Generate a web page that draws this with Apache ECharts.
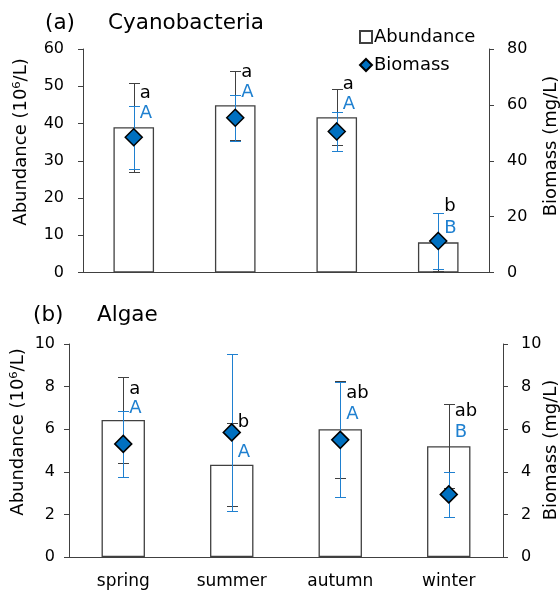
<!DOCTYPE html>
<html>
<head>
<meta charset="utf-8">
<title>Cyanobacteria and algae by season</title>
<script src="https://cdn.jsdelivr.net/npm/echarts@6/dist/echarts.min.js"></script>
<style>
  html, body { margin: 0; padding: 0; background: #fff; }
  #main { width: 560px; height: 593px; }
</style>
</head>
<body>
<div id="main"></div>
<script>
// seasons
var seasons = ['spring', 'summer', 'autumn', 'winter'];

// (a) cyanobacteria: abundance (10^6/L, left axis) and biomass (mg/L, right axis)
var cyanoAbund = [39.0, 44.9, 41.7, 8.1];
var cyanoAbundErr = [11.9, 9.3, 7.5, 7.8];
var cyanoBio = [48.4, 55.4, 50.5, 11.3];
var cyanoBioErr = [11.2, 8.2, 6.9, 10.1];
var cyanoLetters = ['a', 'a', 'a', 'b'];
var cyanoLettersBio = ['A', 'A', 'A', 'B'];
// where the letters sit, in left-axis units
var cyanoLetterY = [48.1, 53.7, 50.5, 17.7];
var cyanoLetterBioY = [42.8, 48.4, 45.2, 11.9];

// (b) algae
var algaeAbund = [6.43, 4.33, 6.0, 5.2];
var algaeAbundErr = [2.02, 1.95, 2.28, 1.98];
var algaeBio = [5.31, 5.85, 5.5, 2.94];
var algaeBioErr = [1.55, 3.7, 2.7, 1.07];
var algaeLetters = ['a', 'b', 'ab', 'ab'];
var algaeLettersBio = ['A', 'A', 'A', 'B'];
var algaeLetterY = [7.87, 6.3, 7.68, 6.82];
var algaeLetterBioY = [6.98, 4.9, 6.7, 5.85];

var FONT = 'DejaVu Sans';
var DARK = '#404040';
var BLUE = '#1f80d0';
var FILL = '#0070c0';

function errData(vals, errs) {
	return vals.map(function (v, i) { return [i, v - errs[i], v + errs[i]]; });
}

// vertical error bar with caps, snapped to half pixels so it stays crisp
function errRender(color) {
	return function (params, api) {
		var i = api.value(0);
		var lo = api.coord([i, api.value(1)]);
		var hi = api.coord([i, api.value(2)]);
		var x = Math.round(lo[0]) + 0.5;
		var y1 = Math.round(lo[1]) + 0.5;
		var y2 = Math.round(hi[1]) + 0.5;
		var half = 5.5;
		var st = { stroke: color, lineWidth: 1 };
		return {
			type: 'group',
			children: [
				{ type: 'line', shape: { x1: x, y1: y1, x2: x, y2: y2 }, style: st },
				{ type: 'line', shape: { x1: x - half, y1: y1, x2: x + half, y2: y1 }, style: st },
				{ type: 'line', shape: { x1: x - half, y1: y2, x2: x + half, y2: y2 }, style: st }
			]
		};
	};
}

function letterSeries(gi, ys, letters, color) {
	return {
		type: 'scatter',
		xAxisIndex: gi, yAxisIndex: gi * 2,
		symbolSize: 0,
		silent: true,
		z: 6,
		itemStyle: { opacity: 1 },
		data: ys.map(function (y, i) { return [i, y]; }),
		label: {
			show: true, position: 'right', distance: 6,
			fontFamily: FONT, fontSize: 18, color: color,
			formatter: function (p) { return letters[p.dataIndex]; }
		}
	};
}

// one panel = bars, two sets of error bars, diamonds and letters
function panelSeries(gi, abund, abundErr, bio, bioErr, letters, lettersBio, letterY, letterBioY) {
	return [
		{
			name: 'Abundance', type: 'bar',
			xAxisIndex: gi, yAxisIndex: gi * 2,
			barWidth: '40%', z: 2,
			itemStyle: { color: '#fff', borderColor: DARK, borderWidth: 1.3 },
			data: abund
		},
		{
			type: 'custom', xAxisIndex: gi, yAxisIndex: gi * 2, z: 3,
			renderItem: errRender(DARK), data: errData(abund, abundErr)
		},
		{
			type: 'custom', xAxisIndex: gi, yAxisIndex: gi * 2 + 1, z: 4,
			renderItem: errRender(BLUE), data: errData(bio, bioErr)
		},
		{
			name: 'Biomass', type: 'scatter',
			xAxisIndex: gi, yAxisIndex: gi * 2 + 1,
			symbol: 'diamond', symbolSize: 17, z: 5,
			itemStyle: { color: FILL, borderColor: '#000', borderWidth: 1.5, opacity: 1 },
			data: bio.map(function (v, i) { return [i, v]; })
		},
		letterSeries(gi, letterY, letters, '#000'),
		letterSeries(gi, letterBioY, lettersBio, BLUE)
	];
}

function yAxis(gi, pos, max, interval, margin) {
	return {
		type: 'value', gridIndex: gi, position: pos,
		min: 0, max: max, interval: interval,
		axisLine: { show: true, lineStyle: { color: DARK } },
		axisTick: { show: true, length: 5, lineStyle: { color: DARK } },
		axisLabel: { fontFamily: FONT, fontSize: 16, color: '#000', margin: margin },
		splitLine: { show: false }
	};
}

function xAxis(gi, showLabels) {
	return {
		type: 'category', gridIndex: gi, data: seasons,
		axisLine: { lineStyle: { color: DARK } },
		axisTick: { length: 5, lineStyle: { color: DARK } },
		axisLabel: { show: showLabels, fontFamily: FONT, fontSize: 17, color: '#000', margin: 16 }
	};
}

function axisName(text, x, y) {
	return {
		type: 'text', x: x, y: y, rotation: Math.PI / 2,
		style: { text: text, font: '18px "DejaVu Sans"', fill: '#000', align: 'center', verticalAlign: 'middle' }
	};
}

function titleText(text, left, top) {
	return { text: text, left: left, top: top, padding: 0,
		textStyle: { fontFamily: FONT, fontSize: 21.5, fontWeight: 'normal', color: '#000' } };
}

var chart = echarts.init(document.getElementById('main'));

var option = {
	animation: false,
	backgroundColor: '#fff',
	title: [
		titleText('(a)', 45, 12),
		titleText('Cyanobacteria', 108, 12),
		titleText('(b)', 33, 304),
		titleText('Algae', 97, 304)
	],
	legend: {
		orient: 'vertical', left: 359, top: 28, padding: 0,
		itemWidth: 12, itemHeight: 12, itemGap: 10,
		textStyle: { fontFamily: FONT, fontSize: 18, color: '#000', padding: [0, 0, 0, -3] },
		data: [{ name: 'Abundance', icon: 'rect' }, { name: 'Biomass', icon: 'diamond' }]
	},
	grid: [
		{ left: 83, right: 71, top: 49, height: 223.5 },
		{ left: 69, right: 57, top: 344, height: 213 }
	],
	xAxis: [xAxis(0, false), xAxis(1, true)],
	yAxis: [
		yAxis(0, 'left', 60, 10, 19),
		yAxis(0, 'right', 80, 20, 18),
		yAxis(1, 'left', 10, 2, 14),
		yAxis(1, 'right', 10, 2, 18)
	],
	graphic: [
		axisName('Abundance (10\u2076/L)', 21.7, 142),
		axisName('Biomass (mg/L)', 551, 146),
		axisName('Abundance (10\u2076/L)', 18.5, 432),
		axisName('Biomass (mg/L)', 551, 450)
	],
	series: [].concat(
		panelSeries(0, cyanoAbund, cyanoAbundErr, cyanoBio, cyanoBioErr,
			cyanoLetters, cyanoLettersBio, cyanoLetterY, cyanoLetterBioY),
		panelSeries(1, algaeAbund, algaeAbundErr, algaeBio, algaeBioErr,
			algaeLetters, algaeLettersBio, algaeLetterY, algaeLetterBioY)
	)
};

chart.setOption(option);
</script>
</body>
</html>
